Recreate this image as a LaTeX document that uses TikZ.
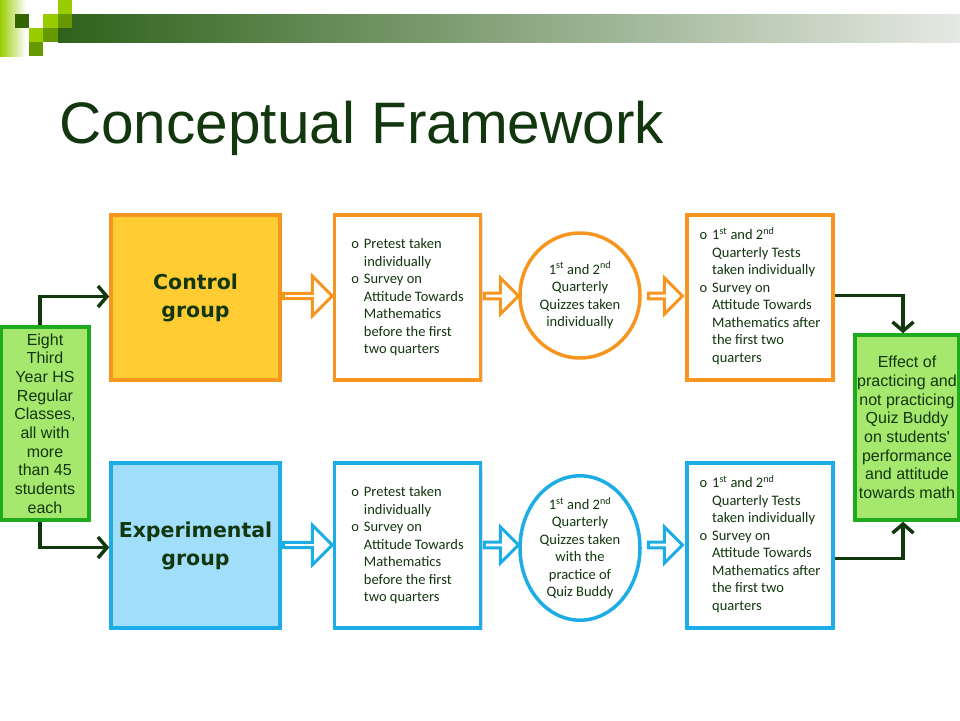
\documentclass[tikz,border=0pt]{standalone}
\usepackage{fontspec}
\setmainfont{Carlito}
\newfontfamily\arialf{Liberation Sans}
\newfontfamily\verdf{DejaVu Sans}
\usepackage{tikz}
\usetikzlibrary{arrows.meta}
\usetikzlibrary{shapes.geometric,shapes.arrows,shadows}
\definecolor{txtgreen}{RGB}{18,54,14}
\definecolor{lingreen}{RGB}{16,56,12}
\definecolor{orng}{RGB}{247,150,30}
\definecolor{gold}{RGB}{255,204,51}
\definecolor{skyline}{RGB}{28,172,230}
\definecolor{skyfill}{RGB}{160,222,250}
\definecolor{lgreen}{RGB}{166,232,110}
\definecolor{bgreen}{RGB}{30,172,30}
\definecolor{sqA}{RGB}{153,204,0}
\definecolor{sqB}{RGB}{102,153,0}
\definecolor{sqC}{RGB}{51,102,0}
\definecolor{barL}{RGB}{46,98,26}
\definecolor{barM}{RGB}{176,188,172}
\definecolor{barR}{RGB}{230,233,228}

\begin{document}
\begin{tikzpicture}[x=1pt,y=-1pt,
  box/.style={draw=#1,line width=3.5pt,fill=white,minimum width=146pt,minimum height=165pt,
    inner sep=0pt,drop shadow={opacity=0.25,shadow xshift=2pt,shadow yshift=-2pt}},
  grpbox/.style={box=#1,minimum width=169pt,font=\verdf\bfseries\fontsize{20.5}{28}\selectfont,
    text=txtgreen,align=center},
  sidebox/.style={draw=bgreen,fill=lgreen,line width=3.5pt,inner sep=0pt,text=txtgreen,align=center,
    font=\arialf\fontsize{16}{18.7}\selectfont},
  quiz/.style={ellipse,draw=#1,line width=3.5pt,fill=white,minimum width=120pt,minimum height=125pt,
    inner sep=0pt,align=center,text=txtgreen,font=\fontsize{14.5}{17.5}\selectfont},
  items/.style={text=txtgreen,font=\fontsize{14.5}{17.5}\selectfont},
  blk/.style={single arrow,draw=#1,line width=3pt,fill=white,minimum width=40pt,
    single arrow head extend=10pt,inner sep=0pt},
  conn/.style={draw=lingreen,line width=3.5pt,-{Straight Barb[length=9pt,width=21pt]}}]
\useasboundingbox (0,0) rectangle (960,720);

\shade[left color=sqA,right color=white] (0,0) rectangle (26,56);
\shade[left color=barL,middle color=barM,right color=barR] (58,14) rectangle (960,42);
\fill[sqA] (58,0) rectangle (72,14);
\fill[sqC] (15,14) rectangle (29,28);
\fill[sqA] (43,14) rectangle (58,28);
\fill[sqB] (58,14) rectangle (72,28);
\fill[sqA] (29,28) rectangle (43,42);
\fill[sqB] (43,28) rectangle (58,42);
\fill[sqB] (29,42) rectangle (43,56);

\node[anchor=base west,text=txtgreen,font=\arialf\fontsize{58.5}{60}\selectfont,inner sep=0pt]
  (title) at (59,143) {Conceptual Framework};

\node[sidebox,minimum width=88pt,minimum height=193pt] (grp) at (45,423.5)
  {Eight\\Third\\Year HS\\Regular\\Classes,\\all with\\more\\than 45\\students\\each};
\node[sidebox,minimum width=104pt,minimum height=185pt] (eff) at (907,427.5)
  {Effect of\\practicing and\\not practicing\\Quiz Buddy\\on students'\\performance\\and attitude\\towards math};

\node[grpbox=orng,fill=gold] (ctrl) at (195.5,297.5) {Control\\group};
\node[grpbox=skyline,fill=skyfill] (expt) at (195.5,545.5) {Experimental\\group};

\node[box=orng,items] (pre1) at (407.5,297.5) {\begin{tabular}{@{}l@{\hspace{5pt}}l@{}}
  o & Pretest taken\\ & individually\\ o & Survey on\\ & Attitude Towards\\
  & Mathematics\\ & before the first\\ & two quarters\end{tabular}};
\node[box=skyline,items] (pre2) at (407.5,545.5) {\begin{tabular}{@{}l@{\hspace{5pt}}l@{}}
  o & Pretest taken\\ & individually\\ o & Survey on\\ & Attitude Towards\\
  & Mathematics\\ & before the first\\ & two quarters\end{tabular}};

\node[quiz=orng] (quiz1) at (580,295.5)
  {1\textsuperscript{st} and 2\textsuperscript{nd}\\Quarterly\\Quizzes taken\\individually};
\node[quiz=skyline] (quiz2) at (580,548)
  {1\textsuperscript{st} and 2\textsuperscript{nd}\\Quarterly\\Quizzes taken\\with the\\practice of\\Quiz Buddy};

\node[box=orng,items] (post1) at (760,297.5) {\begin{tabular}{@{}l@{\hspace{5pt}}l@{}}
  o & 1\textsuperscript{st} and 2\textsuperscript{nd}\\ & Quarterly Tests\\ & taken individually\\
  o & Survey on\\ & Attitude Towards\\ & Mathematics after\\ & the first two\\ & quarters\end{tabular}};
\node[box=skyline,items] (post2) at (760,545.5) {\begin{tabular}{@{}l@{\hspace{5pt}}l@{}}
  o & 1\textsuperscript{st} and 2\textsuperscript{nd}\\ & Quarterly Tests\\ & taken individually\\
  o & Survey on\\ & Attitude Towards\\ & Mathematics after\\ & the first two\\ & quarters\end{tabular}};

\node[blk=orng,minimum height=49pt] (a11) at (306.5,296) {};
\node[blk=orng,minimum height=34pt,minimum width=36pt,single arrow head extend=8pt] (a12) at (500,296) {};
\node[blk=orng,minimum height=34pt,minimum width=36pt,single arrow head extend=8pt] (a13) at (664,296) {};
\node[blk=skyline,minimum height=49pt] (a21) at (306.5,545) {};
\node[blk=skyline,minimum height=34pt,minimum width=36pt,single arrow head extend=8pt] (a22) at (500,545) {};
\node[blk=skyline,minimum height=34pt,minimum width=36pt,single arrow head extend=8pt] (a23) at (664,545) {};

\draw[conn] ([xshift=-5pt]grp.north) |- ([yshift=1pt]ctrl.west);
\draw[conn] ([xshift=-5pt]grp.south) |- ([yshift=-2pt]expt.west);
\draw[conn] ([yshift=2pt]post1.east) -| ([xshift=-4pt]eff.north);
\draw[conn] ([yshift=-13pt]post2.east) -| ([xshift=-4pt]eff.south);
\end{tikzpicture}
\end{document}
